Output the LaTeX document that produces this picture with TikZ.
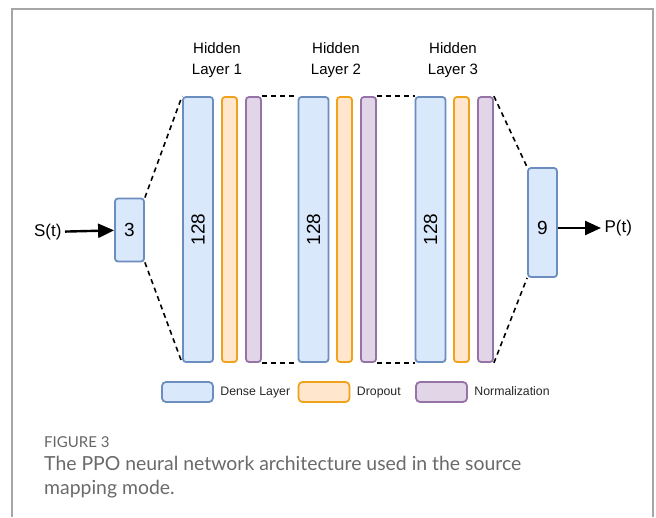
\documentclass[tikz,border=0pt]{standalone}
\usepackage{fontspec}
\setmainfont{Liberation Sans}
\newfontfamily\capfont{Lato}
\usetikzlibrary{arrows.meta}
\usetikzlibrary{positioning}
\definecolor{densefill}{HTML}{DAE8FC}
\definecolor{densedraw}{HTML}{6C8EBF}
\definecolor{dropfill}{HTML}{FFE6CC}
\definecolor{dropdraw}{HTML}{EFA21A}
\definecolor{normfill}{HTML}{E1D5E7}
\definecolor{normdraw}{HTML}{9673A6}
\definecolor{capgray}{HTML}{6A6A6A}

\begin{document}
\begin{tikzpicture}[x=1pt,y=-1pt,
    layerbox/.style={draw, line width=1.8pt, rounded corners=3pt, inner sep=0pt, minimum width=#1},
    dense/.style={layerbox=30pt, fill=densefill, draw=densedraw, font=\fontsize{19}{22}\selectfont},
    drop/.style={layerbox=15pt, fill=dropfill, draw=dropdraw, minimum height=265pt},
    norm/.style={layerbox=15pt, fill=normfill, draw=normdraw, minimum height=265pt},
    legendbox/.style={draw, line width=1.8pt, rounded corners=4pt, minimum width=51pt, minimum height=20pt},
    legendtext/.style={font=\fontsize{12.3}{14}\selectfont, text=black!85, text height=9pt, text depth=2.5pt},
    link/.style={dashed, line width=1.6pt, dash pattern=on 5pt off 4pt},
    arrow/.style={-{Triangle[length=16pt,width=14pt]}, line width=2.4pt},
    hidden/.style={align=center, font=\fontsize{15}{21}\selectfont}]
  \useasboundingbox (0,0) rectangle (656,517);
  \fill[white] (0,0) rectangle (656,517);
  \draw[black!35, line width=1.2pt] (12,517) |- (653,9) -- (653,517);

  % headings
  \node[hidden] (h1) at (217,60) {Hidden\\Layer 1};
  \node[hidden] (h2) at (336,60) {Hidden\\Layer 2};
  \node[hidden] (h3) at (453,60) {Hidden\\Layer 3};

  % input and output
  \node[dense, minimum width=29pt, minimum height=63pt] (in) at (129.5,230) {3};
  \node[dense, minimum width=29pt, minimum height=109pt, text height=23pt, text depth=0pt] (out) at (542.5,222.5) {9};
  \node[font=\fontsize{17}{20}\selectfont, anchor=east] (st) at (65,232) {S(t)};
  \node[font=\fontsize{17}{20}\selectfont, anchor=west] (pt) at (601,228) {P(t)};

  % hidden layers
  \node[dense, minimum height=265pt] (d1) at (198,229.5) {\rotatebox{90}{128}};
  \node[drop] (o1) at (229.5,229.5) {};
  \node[norm] (n1) at (253.5,229.5) {};
  \node[dense, minimum height=265pt] (d2) at (313.5,229.5) {\rotatebox{90}{128}};
  \node[drop] (o2) at (344.5,229.5) {};
  \node[norm] (n2) at (368.5,229.5) {};
  \node[dense, minimum height=265pt] (d3) at (430.5,229.5) {\rotatebox{90}{128}};
  \node[drop] (o3) at (461.5,229.5) {};
  \node[norm] (n3) at (485.5,229.5) {};

  \draw[link] (in.north east) -- (d1.north west);
  \draw[link] (in.south east) -- (d1.south west);
  \draw[link] (n1.north east) -- (d2.north west);
  \draw[link] (n1.south east) -- (d2.south west);
  \draw[link] (n2.north east) -- (d3.north west);
  \draw[link] (n2.south east) -- (d3.south west);
  \draw[link] (n3.north east) -- (out.north west);
  \draw[link] (n3.south east) -- (out.south west);

  \draw[arrow] (st) -- (in);
  \draw[arrow] (out.east |- pt) -- (pt);

  % legend
  \node[legendbox, fill=densefill, draw=densedraw] (lgdense) at (187.5,392) {};
  \node[legendtext, right=3pt of lgdense] (txdense) {Dense Layer};
  \node[legendbox, fill=dropfill, draw=dropdraw] (lgdrop) at (324,392) {};
  \node[legendtext, right=3pt of lgdrop] (txdrop) {Dropout};
  \node[legendbox, fill=normfill, draw=normdraw] (lgnorm) at (441.5,392) {};
  \node[legendtext, right=3pt of lgnorm] (txnorm) {Normalization};

  % caption
  \node[anchor=base west, inner sep=0pt, text=black!60, font=\capfont\fontsize{15}{17}\selectfont] (capnum) at (44,447) {FIGURE 3};
  \node[anchor=base west, inner sep=0pt, text=capgray, font=\capfont\fontsize{19.4}{23}\selectfont] (capa) at (44,470) {The PPO neural network architecture used in the source};
  \node[anchor=base west, inner sep=0pt, text=capgray, font=\capfont\fontsize{19.4}{23}\selectfont] (capb) at (44,494) {mapping mode.};
\end{tikzpicture}
\end{document}
